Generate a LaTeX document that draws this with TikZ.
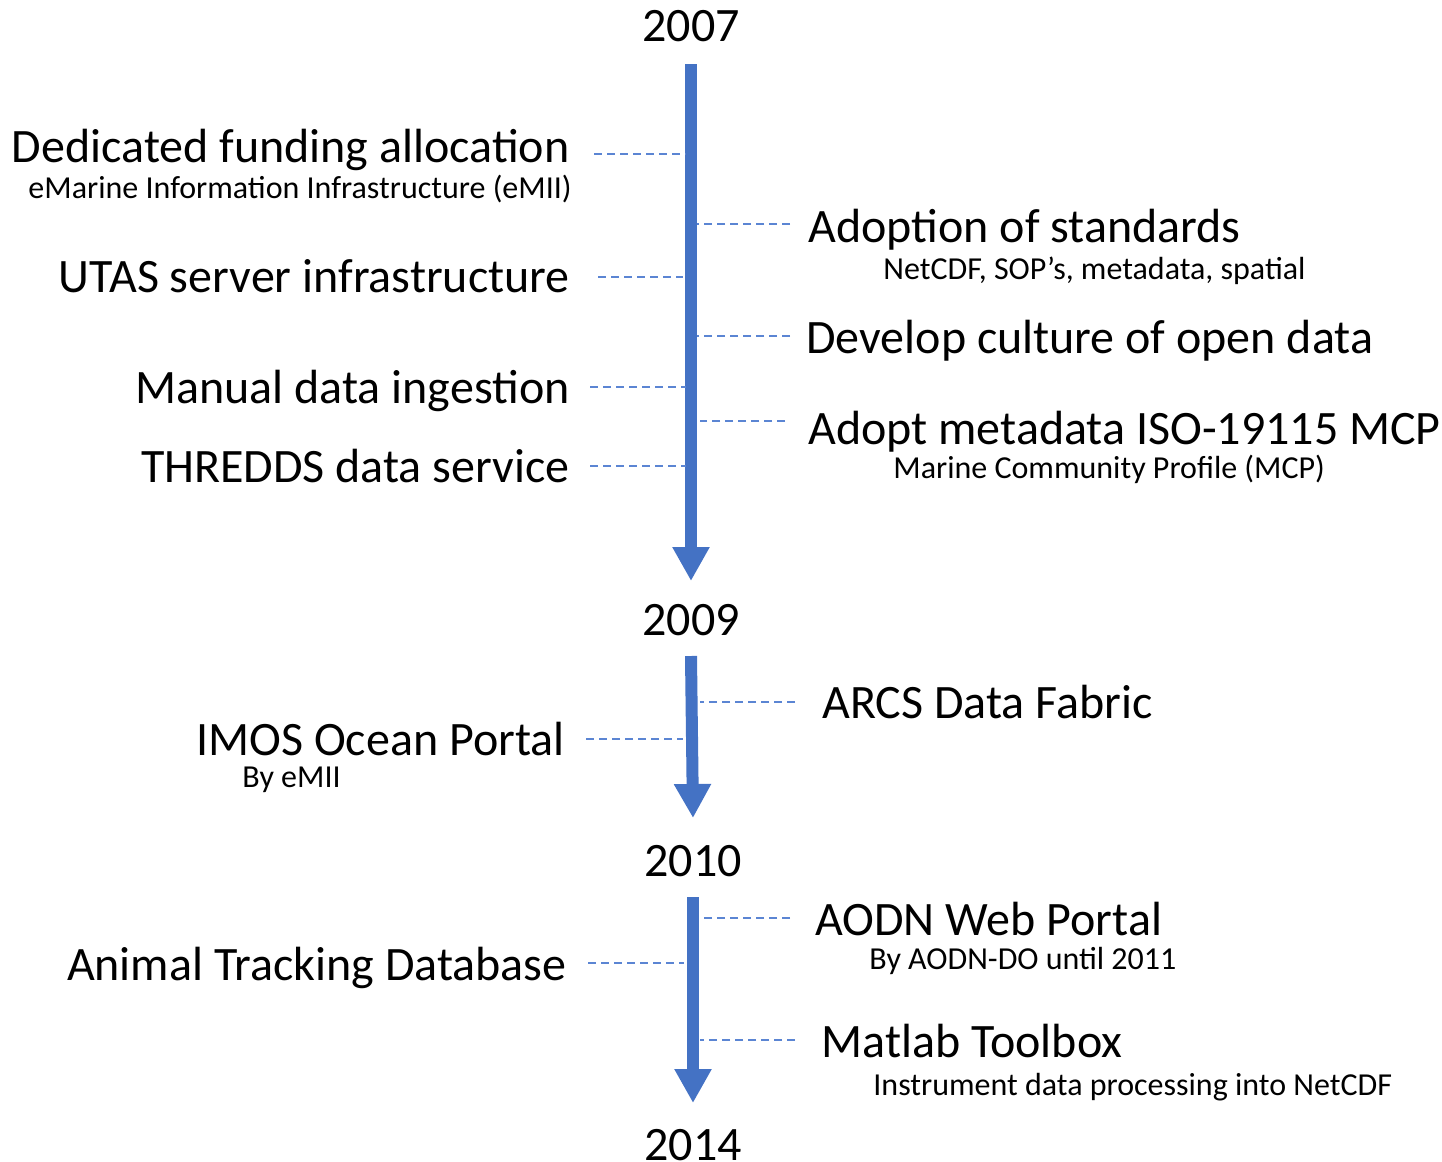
\documentclass[tikz,border=0pt]{standalone}
\usepackage{fontspec}
\setmainfont{Carlito}
\usetikzlibrary{arrows.meta}
\definecolor{officeblue}{HTML}{4472C4}
\definecolor{tickblue}{HTML}{5B85D3}
\tikzset{
  timeline/.style={officeblue, line width=6pt, -{Triangle[length=17pt,width=17.5pt]}},
  tick/.style={tickblue, line width=1pt, dash pattern=on 4pt off 2.5pt},
  year/.style={font=\fontsize{24}{28}\selectfont, anchor=base, inner sep=0pt},
  item/.style={font=\fontsize{24}{28}\selectfont, inner sep=0pt},
  note/.style={font=\fontsize{16}{19}\selectfont, inner sep=0pt}
}
\begin{document}
\begin{tikzpicture}[x=0.5pt,y=-0.5pt]
    \useasboundingbox (0,0) rectangle (1442,1162);

    % Ends of the three timeline arrows
    \coordinate (S1) at (691, 64);
    \coordinate (E1) at (691, 581);
    \coordinate (S2) at (691, 656);
    \coordinate (E2) at (693, 818);
    \coordinate (S3) at (693, 897);
    \coordinate (E3) at (693, 1103);

    % Years
    \node[year] (y2007) at (691, 41) {2007};
    \node[year] (y2009) at (691, 635) {2009};
    \node[year] (y2010) at (693, 876) {2010};
    \node[year] (y2014) at (693, 1160) {2014};

    % Draw the arrows
    \draw[timeline] (S1) -- (E1);
    \draw[timeline] (S2) -- (E2);
    \draw[timeline] (S3) -- (E3);

    % Events on the left, 2007-2009
    \node[item, anchor=base east] (fund) at (570, 162) {Dedicated funding allocation};
    \node[note, anchor=base east] (emii) at (572, 198) {eMarine Information Infrastructure (eMII)};
    \node[item, anchor=base east] (utas) at (570, 292) {UTAS server infrastructure};
    \node[item, anchor=base east] (manual) at (570, 403) {Manual data ingestion};
    \node[item, anchor=base east] (thredds) at (570, 482) {THREDDS data service};

    % Events on the right, 2007-2009
    \node[item, anchor=base west] (adopt) at (808, 242) {Adoption of standards};
    \node[note, anchor=base west] (netcdf) at (883, 279) {NetCDF, SOP’s, metadata, spatial};
    \node[item, anchor=base west] (culture) at (806, 353) {Develop culture of open data};
    \node[item, anchor=base west] (iso) at (808, 444) {Adopt metadata ISO-19115 MCP};
    \node[note, anchor=base west] (mcp) at (893, 478) {Marine Community Profile (MCP)};

    % 2009-2010
    \node[item, anchor=base east] (imos) at (565, 755) {IMOS Ocean Portal};
    \node[note, anchor=base west] (byemii) at (242, 787) {By eMII};
    \node[item, anchor=base west] (arcs) at (822, 718) {ARCS Data Fabric};

    % 2010-2014
    \node[item, anchor=base east] (animal) at (567, 980) {Animal Tracking Database};
    \node[item, anchor=base west] (aodn) at (815, 935) {AODN Web Portal};
    \node[note, anchor=base west] (aodndo) at (869, 969) {By AODN-DO until 2011};
    \node[item, anchor=base west] (matlab) at (821, 1057) {Matlab Toolbox};
    \node[note, anchor=base west] (instr) at (873, 1095) {Instrument data processing into NetCDF};

    % Ends of the dashed ticks
    \coordinate (fund-a) at (594, 154);   \coordinate (fund-b) at (686, 154);
    \coordinate (utas-a) at (598, 277);   \coordinate (utas-b) at (683, 277);
    \coordinate (manual-a) at (590, 387); \coordinate (manual-b) at (686, 387);
    \coordinate (thredds-a) at (590, 466); \coordinate (thredds-b) at (686, 466);
    \coordinate (adopt-a) at (790, 224);  \coordinate (adopt-b) at (697, 224);
    \coordinate (culture-a) at (790, 336); \coordinate (culture-b) at (697, 336);
    \coordinate (iso-a) at (785, 421);    \coordinate (iso-b) at (700, 421);
    \coordinate (imos-a) at (586, 739);   \coordinate (imos-b) at (683, 739);
    \coordinate (arcs-a) at (795, 702);   \coordinate (arcs-b) at (700, 702);
    \coordinate (animal-a) at (588, 963); \coordinate (animal-b) at (684, 963);
    \coordinate (aodn-a) at (790, 918);   \coordinate (aodn-b) at (700, 918);
    \coordinate (matlab-a) at (795, 1040); \coordinate (matlab-b) at (700, 1040);

    % Draw the ticks
    \foreach \t in {fund, utas, manual, thredds, adopt, culture, iso, imos, arcs, animal, aodn, matlab}
        \draw[tick] (\t-a) -- (\t-b);

\end{tikzpicture}
\end{document}
